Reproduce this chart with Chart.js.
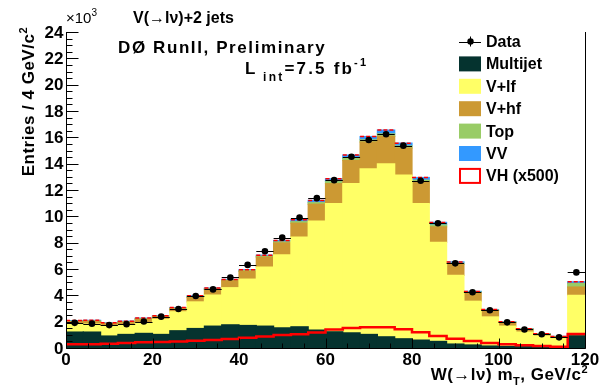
<!DOCTYPE html>
<html>
<head>
    <title>W(→lν) m_T, V+2 jets</title>
    <script src="https://cdn.jsdelivr.net/npm/chart.js"></script>
    <style>
        html, body { margin: 0; padding: 0; background: #fff; }
    </style>
</head>
<body>
    <canvas id="mt-chart" width="613" height="385"></canvas>

    <script>
        // 4 GeV bins from 0 to 120 GeV, all values in units of 10^3 entries
        const binLow = [0, 4, 8, 12, 16, 20, 24, 28, 32, 36, 40, 44, 48, 52, 56,
                        60, 64, 68, 72, 76, 80, 84, 88, 92, 96, 100, 104, 108, 112, 116];
        const xTickLabels = [0, 20, 40, 60, 80, 100, 120];
        const yTickLabels = [0, 2, 4, 6, 8, 10, 12, 14, 16, 18, 20, 22, 24];

        const dataPts = [1.91, 1.85, 1.74, 1.81, 2.01, 2.38, 2.96, 3.95, 4.45, 5.36,
                         6.31, 7.35, 8.38, 9.91, 11.38, 12.75, 14.52, 15.80, 16.23, 15.37,
                         12.70, 9.47, 6.43, 4.23, 2.87, 1.95, 1.41, 1.05, 0.81, 5.74];
        const multijet = [1.21, 1.21, 0.91, 1.03, 1.11, 1.03, 1.31, 1.48, 1.66, 1.76,
                          1.71, 1.66, 1.53, 1.61, 1.36, 1.23, 1.15, 1.03, 0.85, 0.70,
                          0.60, 0.50, 0.30, 0.23, 0.15, 0.12, 0.10, 0.10, 0.08, 0.93];
        const vlf = [0.59, 0.61, 0.77, 0.72, 0.77, 1.15, 1.44, 2.02, 2.36, 2.82,
                     3.52, 4.48, 5.54, 6.81, 8.27, 9.74, 11.33, 12.58, 13.14, 12.43,
                     10.37, 7.53, 5.21, 3.32, 2.21, 1.54, 1.11, 0.81, 0.63, 3.07];
        const vhf = [0.20, 0.20, 0.17, 0.21, 0.30, 0.20, 0.23, 0.35, 0.43, 0.52,
                     0.59, 0.76, 0.91, 1.06, 1.29, 1.51, 1.76, 2.04, 2.09, 2.06,
                     1.63, 1.17, 0.84, 0.63, 0.48, 0.27, 0.20, 0.13, 0.13, 0.63];
        const topq = [0.03, 0.03, 0.02, 0.03, 0.04, 0.03, 0.04, 0.05, 0.04, 0.05,
                      0.06, 0.07, 0.08, 0.11, 0.12, 0.15, 0.16, 0.16, 0.18, 0.15,
                      0.14, 0.14, 0.09, 0.06, 0.04, 0.03, 0.03, 0.02, 0.02, 0.27];
        const vv = [0.05, 0.05, 0.04, 0.05, 0.05, 0.04, 0.05, 0.06, 0.06, 0.06,
                    0.07, 0.08, 0.10, 0.16, 0.17, 0.22, 0.25, 0.25, 0.29, 0.22,
                    0.21, 0.20, 0.10, 0.06, 0.04, 0.03, 0.02, 0.02, 0.02, 0.13];
        const vh500 = [0.28, 0.28, 0.33, 0.38, 0.43, 0.46, 0.50, 0.55, 0.60, 0.68,
                       0.78, 0.88, 0.98, 1.05, 1.18, 1.41, 1.51, 1.58, 1.58, 1.43,
                       1.20, 0.91, 0.70, 0.53, 0.38, 0.28, 0.20, 0.15, 0.10, 1.06];

        const BIN = 4;
        const FONT = '"Liberation Sans", Arial, sans-serif';
        const colors = {
            multijet: '#05332f',
            vlf: '#ffff66',
            vhf: '#cc9933',
            top: '#99cc66',
            vv: '#3399ff',
            vh: '#ff0000'
        };

        const stackTotal = binLow.map((_, i) => multijet[i] + vlf[i] + vhf[i] + topq[i] + vv[i]);

        // step outline: one point per left edge plus the last right edge
        function stepPoints(vals) {
            const pts = binLow.map((x, i) => ({ x: x, y: vals[i] }));
            pts.push({ x: binLow[binLow.length - 1] + BIN, y: vals[vals.length - 1] });
            return pts;
        }

        // only the flat top of every bin, broken between bins
        function flatTops(vals) {
            const pts = [];
            binLow.forEach((x, i) => {
                pts.push({ x: x, y: vals[i] }, { x: x + BIN, y: vals[i] }, { x: x + BIN, y: null });
            });
            return pts;
        }

        function barSet(label, vals, color) {
            return {
                type: 'bar', label: label,
                data: binLow.map((x, i) => ({ x: x + BIN / 2, y: vals[i] })),
                backgroundColor: color, borderWidth: 0, grouped: false,
                barPercentage: 1, categoryPercentage: 1, inflateAmount: 0.6,
                stack: 'bkg', xAxisID: 'x', yAxisID: 'y', order: 3
            };
        }

        function richText(ctx, parts, x, y, align, spacing) {
            ctx.letterSpacing = (spacing || 0) + 'px';
            let w = 0;
            parts.forEach(p => { ctx.font = p.f; w += ctx.measureText(p.t).width; });
            let cx = align === 'right' ? x - w : (align === 'center' ? x - w / 2 : x);
            ctx.textAlign = 'left';
            parts.forEach(p => {
                ctx.font = p.f;
                ctx.fillText(p.t, cx, y + (p.dy || 0));
                cx += ctx.measureText(p.t).width;
            });
            ctx.letterSpacing = '0px';
        }

        // error bars of the data points (x: bin width, y: sqrt(N))
        const errorBars = {
            id: 'errorBars',
            beforeDatasetDraw(chart, args) {
                if (args.meta.type !== 'scatter') return;
                const ctx = chart.ctx, xs = chart.scales.x, ys = chart.scales.y2;
                ctx.save();
                ctx.strokeStyle = '#000';
                ctx.lineWidth = 1;
                dataPts.forEach((v, i) => {
                    const err = Math.sqrt(v * 1000) / 1000;
                    const py = Math.round(ys.getPixelForValue(v)) + 0.5;
                    const px = xs.getPixelForValue(binLow[i] + BIN / 2);
                    ctx.beginPath();
                    ctx.moveTo(xs.getPixelForValue(binLow[i]), py);
                    ctx.lineTo(xs.getPixelForValue(binLow[i] + BIN), py);
                    ctx.moveTo(px, ys.getPixelForValue(v - err));
                    ctx.lineTo(px, ys.getPixelForValue(v + err));
                    ctx.stroke();
                });
                ctx.restore();
            }
        };

        // ROOT-like frame, inward ticks, labels, titles and legend
        const rootFrame = {
            id: 'rootFrame',
            afterDraw(chart) {
                const ctx = chart.ctx, a = chart.chartArea;
                const xs = chart.scales.x, ys = chart.scales.y2;
                ctx.save();
                ctx.strokeStyle = '#000';
                ctx.lineWidth = 1;
                ctx.beginPath();
                const L = Math.round(a.left) + 0.5, R = Math.round(a.right) + 0.5;
                const T = Math.round(a.top), B = Math.round(a.bottom) + 0.5;
                ctx.moveTo(L, T); ctx.lineTo(L, B); ctx.lineTo(R, B); ctx.lineTo(R, T);
                for (let v = 0; v <= 24.001; v += 0.5) {
                    const py = Math.round(ys.getPixelForValue(v)) + 0.5;
                    const len = Math.abs(v % 2) < 1e-6 ? 12 : 6;
                    ctx.moveTo(L, py); ctx.lineTo(L + len, py);
                }
                for (let v = 0; v <= 120.001; v += 5) {
                    const px = Math.round(xs.getPixelForValue(v)) + 0.5;
                    const len = v % 20 === 0 ? 10 : 5;
                    ctx.moveTo(px, B); ctx.lineTo(px, B - len);
                }
                ctx.stroke();

                ctx.fillStyle = '#000';
                ctx.font = 'bold 17px ' + FONT;
                ctx.textAlign = 'right';
                ctx.textBaseline = 'middle';
                yTickLabels.forEach(v => ctx.fillText(String(v), L - 3, ys.getPixelForValue(v) + 1));
                ctx.textAlign = 'center';
                ctx.textBaseline = 'alphabetic';
                xTickLabels.forEach(v => ctx.fillText(String(v), xs.getPixelForValue(v), 365));

                const b16 = 'bold 16px ' + FONT, b17 = 'bold 17px ' + FONT;
                const s11 = 'bold 11px ' + FONT, s12 = 'bold 12px ' + FONT;
                richText(ctx, [{ t: '\u00d710', f: '15px ' + FONT }, { t: '3', f: '10px ' + FONT, dy: -7 }], 66, 23, 'left');
                richText(ctx, [{ t: 'V(\u2192l\u03bd)+2 jets', f: b16 }], 133, 23, 'left');
                richText(ctx, [{ t: 'D\u00d8 RunII, Preliminary', f: b17 }], 118, 53, 'left', 1.6);
                richText(ctx, [
                    { t: 'L', f: b17 }, { t: ' int', f: s12, dy: 7 },
                    { t: '=7.5 fb', f: b17 }, { t: '-1', f: s11, dy: -8 }
                ], 245, 74, 'left', 2.2);
                richText(ctx, [
                    { t: 'W(\u2192l\u03bd) m', f: b17 }, { t: 'T', f: s11, dy: 5 },
                    { t: ', GeV/c', f: b17 }, { t: '2', f: s11, dy: -7 }
                ], 588, 380, 'right', 0.5);

                ctx.translate(34, 27);
                ctx.rotate(-Math.PI / 2);
                richText(ctx, [{ t: 'Entries / 4 GeV/c', f: b17 }, { t: '2', f: s11, dy: -7 }], 0, 0, 'right', 0.5);
                ctx.restore();

                // legend
                ctx.save();
                const rows = [
                    ['Data', null], ['Multijet', colors.multijet], ['V+lf', colors.vlf],
                    ['V+hf', colors.vhf], ['Top', colors.top], ['VV', colors.vv], ['VH (x500)', 'vh']
                ];
                ctx.font = b16;
                ctx.textBaseline = 'middle';
                ctx.textAlign = 'left';
                rows.forEach((r, i) => {
                    const cy = 41.5 + i * 22.4;
                    if (r[1] === null) {
                        ctx.strokeStyle = '#000';
                        ctx.lineWidth = 1;
                        ctx.beginPath();
                        ctx.moveTo(459, Math.round(cy) + 0.5); ctx.lineTo(481, Math.round(cy) + 0.5);
                        ctx.moveTo(470.5, cy - 5); ctx.lineTo(470.5, cy + 5);
                        ctx.stroke();
                        ctx.fillStyle = '#000';
                        ctx.beginPath(); ctx.arc(470.5, cy, 3.2, 0, 2 * Math.PI); ctx.fill();
                    } else if (r[1] === 'vh') {
                        ctx.strokeStyle = colors.vh;
                        ctx.lineWidth = 2;
                        ctx.strokeRect(460, cy - 7, 20, 14);
                    } else {
                        ctx.fillStyle = r[1];
                        ctx.fillRect(459, cy - 7.5, 22, 15);
                    }
                    ctx.fillStyle = '#000';
                    ctx.fillText(r[0], 486, cy + 1);
                });
                ctx.restore();
            }
        };

        const ctx = document.getElementById('mt-chart').getContext('2d');
        const mtChart = new Chart(ctx, {
            type: 'bar',
            data: {
                datasets: [
                    barSet('Multijet', multijet, colors.multijet),
                    barSet('V+lf', vlf, colors.vlf),
                    barSet('V+hf', vhf, colors.vhf),
                    barSet('Top', topq, colors.top),
                    barSet('VV', vv, colors.vv),
                    {
                        type: 'line', label: 'stack top', data: flatTops(stackTotal),
                        xAxisID: 'x', yAxisID: 'y2', borderColor: colors.vh, borderWidth: 1.5,
                        borderDash: [4, 2], spanGaps: false, pointRadius: 0, fill: false, order: 2
                    },
                    {
                        type: 'line', label: 'VH (x500)', data: stepPoints(vh500),
                        xAxisID: 'x', yAxisID: 'y2', borderColor: colors.vh, borderWidth: 2.5,
                        stepped: 'before', pointRadius: 0, fill: false, order: 1
                    },
                    {
                        type: 'scatter', label: 'Data',
                        data: binLow.map((x, i) => ({ x: x + BIN / 2, y: dataPts[i] })),
                        xAxisID: 'x', yAxisID: 'y2', backgroundColor: '#000', borderWidth: 0,
                        pointRadius: 3.3, order: 0
                    }
                ]
            },
            options: {
                responsive: false,
                animation: false,
                layout: { padding: { left: 66, right: 28, top: 32, bottom: 37 } },
                plugins: { legend: { display: false }, tooltip: { enabled: false } },
                scales: {
                    x: { type: 'linear', display: false, stacked: true, offset: false, min: 0, max: 120 },
                    y: { type: 'linear', display: false, stacked: true, min: 0, max: 24 },
                    y2: { type: 'linear', display: false, min: 0, max: 24 }
                }
            },
            plugins: [errorBars, rootFrame]
        });
    </script>
</body>
</html>
